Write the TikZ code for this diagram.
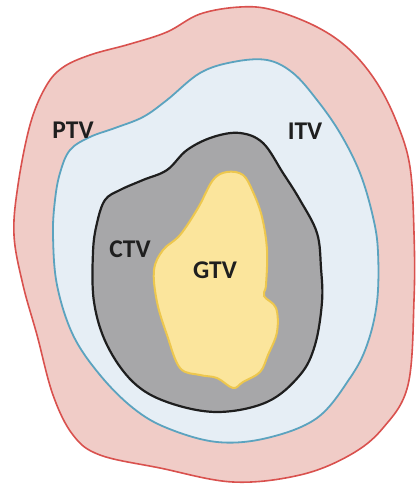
\documentclass[tikz,border=0pt]{standalone}
\usepackage{fontspec}
\setmainfont{Carlito}
\begin{document}
\begin{tikzpicture}[x=1pt,y=-1pt,
  blob/.style={smooth cycle,tension=0.6},
  lbl/.style={font=\bfseries\fontsize{25.5}{25.5}\selectfont,text=black!88,inner sep=0pt}]
\definecolor{ptvfill}{HTML}{F0CCC7}
\definecolor{ptvline}{HTML}{D9514E}
\definecolor{itvfill}{HTML}{E6EEF5}
\definecolor{itvline}{HTML}{5BA3BF}
\definecolor{ctvfill}{HTML}{A7A7A9}
\definecolor{ctvline}{HTML}{1E1E1E}
\definecolor{gtvfill}{HTML}{FBE59C}
\definecolor{gtvline}{HTML}{EDC74E}
\fill[white] (0,0) rectangle (417,485);
\useasboundingbox (0,0) rectangle (417,485);
% PTV
\draw[ptvline,line width=1.6pt,fill=ptvfill] plot[blob] coordinates {
 (240,7) (273,10) (317,27) (350,50) (377,83) (397,123) (410,167) (414,233)
 (414,300) (408,385) (383,428) (350,455) (300,475) (233,482) (160,468)
 (100,455) (73,435) (53,395) (37,335) (23,285) (14,235) (18,185)
 (30,125) (45,88) (62,68) (90,55) (130,44) (167,32) (200,14)};
% ITV
\draw[itvline,line width=1.8pt,fill=itvfill] plot[blob] coordinates {
 (233,62) (267,60) (293,73) (317,100) (340,133) (360,173) (373,217)
 (378,252) (377,302) (367,345) (350,378) (317,418) (267,438) (217,442)
 (167,428) (133,408) (100,375) (73,335) (57,285) (53,235) (55,200)
 (60,173) (70,150) (90,137) (115,128) (143,117) (167,100) (200,73)};
% CTV
\draw[ctvline,line width=2.2pt,fill=ctvfill] plot[blob] coordinates {
 (240,133) (263,143) (283,173) (300,200) (317,233) (321,268) (322,302)
 (315,345) (300,375) (267,402) (217,412) (167,402) (133,382) (107,345)
 (94,302) (93,252) (97,223) (105,200) (120,190) (143,180) (167,170)
 (187,150) (213,137)};
% GTV
\draw[gtvline,line width=2pt,fill=gtvfill] plot[blob] coordinates {
 (213,180) (227,172) (243,175) (253,192) (262,217) (267,250) (266,285)
 (264,296) (276,308) (277,332) (268,355) (260,372) (243,382) (233,388)
 (217,378) (200,375) (180,368) (167,335) (157,302) (154,270) (163,250)
 (180,235) (198,208)};
\node[lbl] (ptv) at (73,130) {PTV};
\node[lbl] (itv) at (305,131) {ITV};
\node[lbl] (ctv) at (130,249) {CTV};
\node[lbl] (gtv) at (215,270) {GTV};
\end{tikzpicture}
\end{document}
